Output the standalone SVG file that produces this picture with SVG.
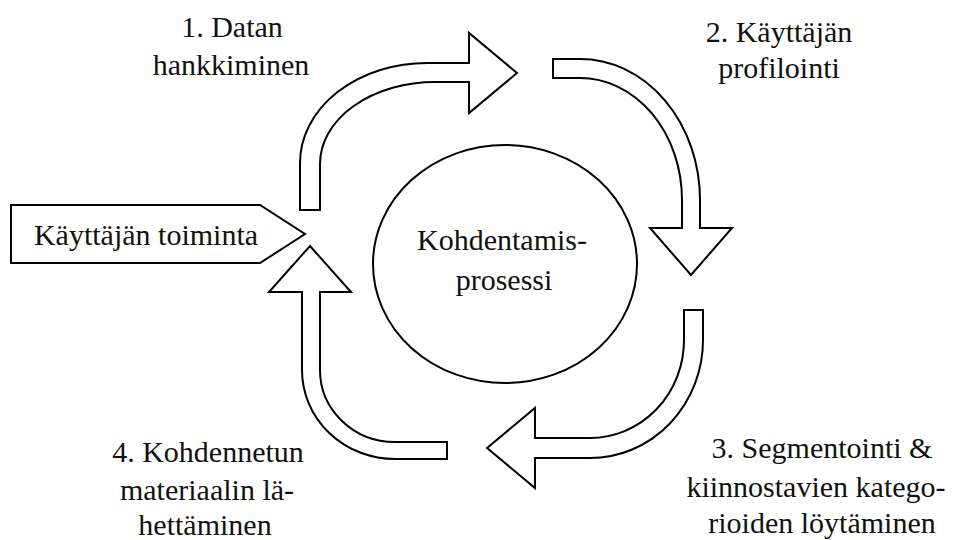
<svg xmlns="http://www.w3.org/2000/svg" width="957" height="540" viewBox="0 0 957 540">
<style>
.s{fill:#fff;stroke:#000;stroke-width:2;stroke-linejoin:miter}
.t{font-family:"Liberation Serif","Times New Roman",serif;font-size:30px;fill:#111;text-anchor:middle}
</style>
<rect width="957" height="540" fill="#fff"/>
<g id="center">
<ellipse class="s" cx="505" cy="264" rx="132" ry="119"/>
<text class="t" x="502" y="250">Kohdentamis-</text>
<text class="t" x="504" y="290">prosessi</text>
</g>
<g id="user-action">
<path class="s" d="M11 205 L260 205 L305 234 L260 263 L11 263 Z"/>
<text class="t" x="146" y="245">Käyttäjän toiminta</text>
</g>
<g id="connectors">
<path id="arrow1" class="s" d="M300 210 L300 163 A127 100 0 0 1 427 63 L469 63 L469 33 L517 73 L469 113 L469 82 L435 82 A115 82 0 0 0 320 164 L320 210 Z"/>
<path id="arrow2" class="s" d="M553 59 L580 59 A120 141 0 0 1 700 200 L700 228 L732 228 L691 275 L650 228 L682 228 L682 200 A102 122 0 0 0 580 78 L553 78 Z"/>
<path id="arrow3" class="s" d="M703 310 L703 340 A113 118 0 0 1 590 458 L535 458 L535 488 L487 448 L535 408 L535 438 L590 438 A94 98 0 0 0 684 340 L684 310 Z"/>
<path id="arrow4" class="s" d="M447 442 L447 459 L395 459 A93 89 0 0 1 302 370 L302 292 L269 292 L310 246 L351 292 L320 292 L320 370 A75 72 0 0 0 395 442 Z"/>
</g>
<g id="step1">
<text class="t" x="232" y="37">1. Datan</text>
<text class="t" x="231" y="75">hankkiminen</text>
</g>
<g id="step2">
<text class="t" x="779" y="42">2. Käyttäjän</text>
<text class="t" x="779" y="78">profilointi</text>
</g>
<g id="step3">
<text class="t" x="822" y="458">3. Segmentointi &amp;</text>
<text class="t" x="816" y="497">kiinnostavien katego-</text>
<text class="t" x="822" y="533">rioiden löytäminen</text>
</g>
<g id="step4">
<text class="t" x="208" y="462">4. Kohdennetun</text>
<text class="t" x="207" y="500">materiaalin lä-</text>
<text class="t" x="205" y="535">hettäminen</text>
</g>
</svg>
